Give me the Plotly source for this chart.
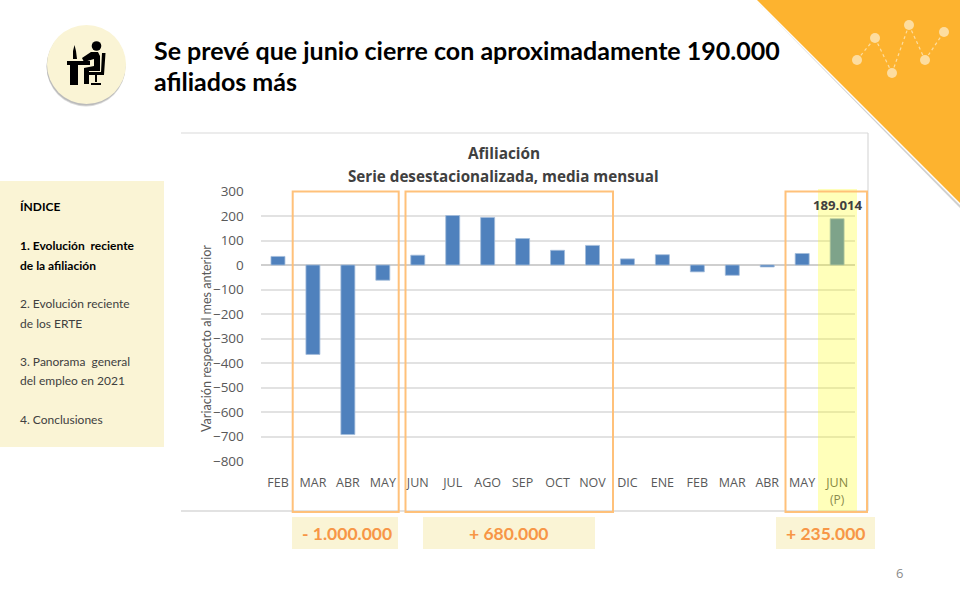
import plotly.graph_objects as go

W, H = 960, 600

# Variacion mensual de afiliados (miles), serie desestacionalizada
meses = ['FEB', 'MAR', 'ABR', 'MAY', 'JUN', 'JUL', 'AGO', 'SEP', 'OCT', 'NOV',
         'DIC', 'ENE', 'FEB', 'MAR', 'ABR', 'MAY', 'JUN']
variacion = [35, -365, -692, -62, 40, 202, 194, 108, 60, 80,
             25, 42, -28, -42, -8, 47, 189]
y_ticks = [300, 200, 100, 0, -100, -200, -300, -400, -500, -600, -700, -800]
etiqueta_prevision = '189.014'

titulo = ['Se prevé que junio cierre con aproximadamente 190.000', 'afiliados más']
indice = [('ÍNDICE', True), ('1. Evolución  reciente', True), ('de la afiliación', True),
          ('2. Evolución reciente', False), ('de los ERTE', False),
          ('3. Panorama  general', False), ('del empleo en 2021', False),
          ('4. Conclusiones', False)]
indice_y = [207, 246, 265, 303, 323, 361, 380, 419]
resumenes = ['- 1.000.000', '+ 680.000', '+ 235.000']

GRID = '#E2E2E2'
TEXT = '#595959'
CREAM = '#FAF4D5'
ORANGE = '#F79646'
BOX = 'rgba(255,190,115,0.95)'


def px(x):
    return x / W


def py(y):
    return 1 - y / H


def rect(x0, y0, x1, y1, fill=None, line=None, width=0, layer='below'):
    return dict(type='rect', xref='paper', yref='paper', x0=px(x0), x1=px(x1), y0=py(y0), y1=py(y1),
                fillcolor=fill or 'rgba(0,0,0,0)', line=dict(color=line or 'rgba(0,0,0,0)', width=width), layer=layer)


def seg(x0, y0, x1, y1, color, width=1, dash='solid', layer='below'):
    return dict(type='line', xref='paper', yref='paper', x0=px(x0), x1=px(x1), y0=py(y0), y1=py(y1),
                line=dict(color=color, width=width, dash=dash), layer=layer)


def circle(cx, cy, r, fill, layer='below'):
    return dict(type='circle', xref='paper', yref='paper', x0=px(cx - r), x1=px(cx + r), y0=py(cy - r), y1=py(cy + r),
                fillcolor=fill, line=dict(width=0), layer=layer)


def poly(points, fill, layer='below'):
    path = 'M ' + ' L '.join(f'{px(x):.5f},{py(y):.5f}' for x, y in points) + ' Z'
    return dict(type='path', xref='paper', yref='paper', path=path, fillcolor=fill, line=dict(width=0), layer=layer)


def text(x, y, s, size, color, bold=False, anchor='left', font='Lato', angle=0):
    return dict(xref='paper', yref='paper', x=px(x), y=py(y), text=f'<b>{s}</b>' if bold else s, showarrow=False,
                xanchor=anchor, yanchor='middle', textangle=angle, font=dict(family=font, size=size, color=color))


shapes = []

# triangulo decorativo
shapes.append(poly([(755, 0), (960, 205), (960, 208)], 'rgba(120,120,120,0.35)'))
shapes.append(poly([(757, 0), (960, 0), (960, 203)], '#FDB32F'))
puntos = [(857, 60), (875, 38), (892, 73), (909, 25), (925, 60), (944, 32)]
for a, b in zip(puntos, puntos[1:]):
    shapes.append(seg(a[0], a[1], b[0], b[1], '#FDDDA0', 1.2, 'dot'))
for p in puntos:
    shapes.append(circle(p[0], p[1], 5, '#FDDDA0'))

# icono
shapes.append(circle(86, 67, 39.5, 'rgba(90,90,90,0.22)'))
shapes.append(circle(86, 66, 39.5, 'rgba(90,90,90,0.25)'))
shapes.append(circle(86.5, 64.5, 39.5, CREAM))
shapes.append(circle(96.5, 46, 4.8, '#000000'))
shapes.append(poly([(82, 58), (91, 52), (98, 52), (100, 56), (100, 71), (89, 71), (89, 84), (84, 84), (84, 68),
                    (94, 66), (94, 59), (84, 62)], '#000000'))
shapes.append(poly([(67, 61), (90, 61), (90, 65), (78, 65), (78, 85), (70, 85), (70, 65), (67, 65)], '#000000'))
shapes.append(poly([(73, 59), (73, 51), (74.5, 45), (76, 51), (77, 59)], '#000000'))
shapes.append(poly([(102, 53), (105.5, 53), (104, 75), (88, 75), (88, 72), (101, 72)], '#000000'))
shapes.append(seg(96, 75, 96, 82, '#000000', 2))
shapes.append(seg(91, 84, 101, 84, '#000000', 2))

# panel indice
shapes.append(rect(0, 181, 164, 447, fill=CREAM))

# marco del grafico
shapes.append(seg(181, 133, 868, 133, '#D9D9D9', 1.2))
shapes.append(seg(868, 133, 868, 511, '#D9D9D9', 1.2))
shapes.append(seg(181, 511, 868, 511, '#D9D9D9', 1.6))

# resaltado del mes previsto
shapes.append(rect(818, 189, 857, 511, fill='rgba(255,255,0,0.27)', layer='above'))

# recuadros
for x0, x1 in [(292.7, 398.7), (405.5, 613), (785.5, 867)]:
    shapes.append(rect(x0, 191.5, x1, 512, line=BOX, width=2, layer='above'))

# cajas de resumen
for x0, x1 in [(292, 398), (423, 595), (776, 875)]:
    shapes.append(rect(x0, 517, x1, 549, fill=CREAM))

annotations = [
    text(152, 50, titulo[0], 25, '#000000', bold=True),
    text(152, 81, titulo[1], 25, '#000000', bold=True),
    text(503.5, 153, 'Afiliación', 15.4, '#404040', bold=True, anchor='center', font='Open Sans'),
    text(503.5, 176, 'Serie desestacionalizada, media mensual', 15.2, '#404040', bold=True, anchor='center', font='Open Sans'),
    text(207, 339, 'Variación respecto al mes anterior', 12.6, TEXT, anchor='center', angle=-90),
    text(837, 499.5, '(P)', 12, '#8A8A4E', anchor='center', font='Open Sans'),
    text(899, 573, '6', 13, '#8C8C8C', anchor='center', font='Open Sans'),
    dict(x=len(meses) - 1, y=variacion[-1], xref='x', yref='y', yshift=14, text=f'<b>{etiqueta_prevision}</b>',
         showarrow=False, font=dict(family='Open Sans', size=13.2, color='#404040')),
]
for (s, negrita), y in zip(indice, indice_y):
    annotations.append(text(17.5, y, s, 12, '#000000' if negrita else '#404040', bold=negrita))
for s, x in zip(resumenes, [347, 508.5, 825]):
    annotations.append(text(x, 533, s, 17.5, ORANGE, bold=True, anchor='center'))

fig = go.Figure(go.Bar(
    x=list(range(len(meses))),
    y=variacion,
    width=0.4,
    marker=dict(color='#4F81BD', line=dict(color='#A3BCDB', width=0.8)),
))

fig.update_layout(
    width=W, height=H, autosize=False,
    margin=dict(l=0, r=0, t=0, b=0),
    paper_bgcolor='#FFFFFF', plot_bgcolor='rgba(0,0,0,0)',
    showlegend=False,
    shapes=shapes,
    annotations=annotations,
    xaxis=dict(
        automargin=False,
        domain=[px(260.5), px(854.6)],
        range=[-0.5, len(meses) - 0.5],
        tickmode='array', tickvals=list(range(len(meses))), ticktext=meses,
        tickfont=dict(family='Open Sans', size=12.5, color=TEXT),
        ticks='outside', ticklen=10, tickcolor='rgba(0,0,0,0)',
        showgrid=False, zeroline=False, showline=False,
    ),
    yaxis=dict(
        automargin=False,
        domain=[py(461), py(191.5)],
        range=[-800, 300],
        tickmode='array', tickvals=y_ticks,
        tickfont=dict(family='Open Sans', size=13.5, color=TEXT),
        ticks='outside', ticklen=13, tickcolor='rgba(0,0,0,0)',
        gridcolor=GRID, gridwidth=1.5,
        zeroline=True, zerolinecolor='#CFCFCF', zerolinewidth=1.5,
        showline=False,
    ),
)

fig.write_html('out.html', config={'displayModeBar': False}, post_script="document.body.style.margin='0';")
